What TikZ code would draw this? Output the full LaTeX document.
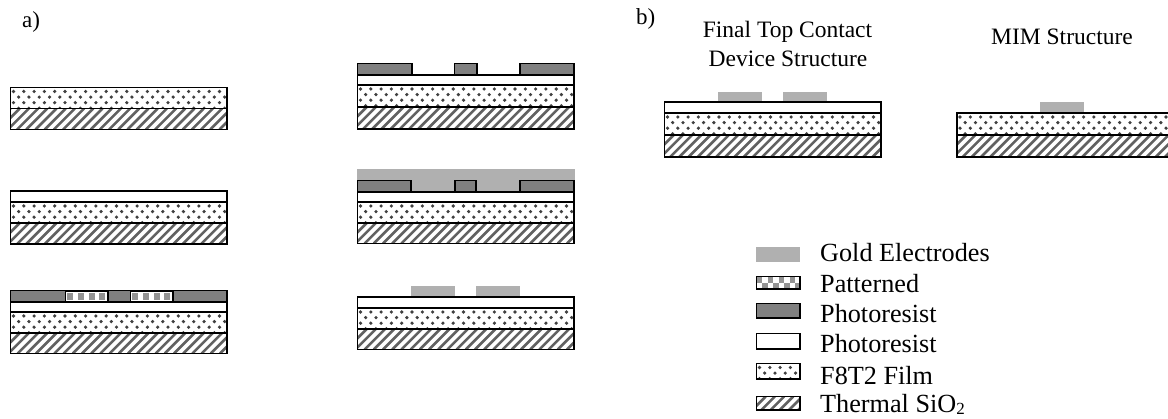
\documentclass[tikz,border=0pt]{standalone}
\usepackage{fontspec}
\setmainfont{Liberation Serif}
\tikzset{
  x=1pt,y=-1pt,
  frame/.style={draw=black,line width=1.5pt},
  goldfill/.style={fill=gold,draw=none},
  darkfill/.style={fill=resist,draw=black,line width=1.5pt},
  lbl/.style={inner sep=0pt,anchor=base west,font=\fontsize{26.2}{30}\selectfont},
  ttl/.style={inner sep=0pt,anchor=base,font=\fontsize{23.5}{28}\selectfont},
  tag/.style={inner sep=0pt,anchor=base west,font=\fontsize{23}{26}\selectfont}
}
\definecolor{gold}{gray}{0.69}
\definecolor{resist}{gray}{0.5}
\definecolor{hatch}{gray}{0.38}
\definecolor{dotc}{gray}{0.25}
\def\dotr{1.8}
% x1 y1 x2 y2
\newcommand{\dotlayer}[4]{%
  \begin{scope}
    \clip (#1,#2) rectangle (#3,#4);
    \pgfmathtruncatemacro{\nx}{(#3-#1)/10.3+1}
    \pgfmathtruncatemacro{\ny}{(#4-#2)/5.6+1}
    \foreach \j in {0,...,\ny}{
      \pgfmathsetmacro{\off}{mod(\j,2)*5.15}
      \foreach \i in {0,...,\nx}{
        \fill[dotc] ({#1+3+\off+\i*10.3},{#2+4+\j*5.6}) circle (\dotr);
      }
    }
  \end{scope}
  \draw[frame] (#1,#2) rectangle (#3,#4);
}
\newcommand{\hatchlayer}[4]{%
  \begin{scope}
    \clip (#1,#2) rectangle (#3,#4);
    \pgfmathtruncatemacro{\nx}{(#3-#1+#4-#2)/9.2+1}
    \foreach \i in {0,...,\nx}{
      \draw[hatch,line width=2.6pt] ({#1+\i*9.2-(#4-#2)},#4) -- ({#1+\i*9.2},#2);
    }
  \end{scope}
  \draw[frame] (#1,#2) rectangle (#3,#4);
}
\newcommand{\whitelayer}[4]{\draw[frame,fill=white] (#1,#2) rectangle (#3,#4);}
% one row of grey blocks, as in the patterned resist of the process drawing
\newcommand{\checkrow}[4]{%
  \draw[frame,fill=white] (#1,#2) rectangle (#3,#4);
  \foreach \i in {0,1,2,3}{
    \fill[gray!85] ({#1+1.5+\i*10.8},{#2+2}) rectangle ++(6,7.2);
  }
}
% full checkerboard, as in the legend swatch
\newcommand{\checklayer}[4]{%
  \begin{scope}
    \clip (#1,#2) rectangle (#3,#4);
    \fill[white] (#1,#2) rectangle (#3,#4);
    \foreach \i in {0,...,7}{
      \pgfmathsetmacro{\off}{mod(\i,2)*5.5}
      \foreach \j in {0,1}{
        \fill[gray!85] ({#1+\i*5.5},{#2+1+\off+\j*11}) rectangle ++(5.5,5.5);
      }
    }
  \end{scope}
  \draw[frame] (#1,#2) rectangle (#3,#4);
}
% substrate: x1 x2 top mid bottom
\newcommand{\stackbase}[5]{\dotlayer{#1}{#3}{#2}{#4}\hatchlayer{#1}{#4}{#2}{#5}}
\begin{document}
\begin{tikzpicture}
\useasboundingbox (0,0) rectangle (1168,419);
\fill[white] (0,0) rectangle (1168,419);
\node[tag] (taga) at (22,28) {a)};
\node[tag] (tagb) at (636,25) {b)};
\node[ttl] (t1) at (787.5,38) {Final Top Contact};
\node[ttl] (t2) at (788,67) {Device Structure};
\node[ttl] (t3) at (1062,45) {MIM Structure};
% column 1
\stackbase{10.5}{227}{87.5}{108.5}{129.5}
\whitelayer{10.5}{191}{227}{202}
\stackbase{10.5}{227}{202}{223}{244}
\draw[darkfill] (10.5,290.5) rectangle (227,302);
\checkrow{65.5}{291}{108}{302}
\checkrow{130.5}{291}{173}{302}
\whitelayer{10.5}{302}{227}{312}
\stackbase{10.5}{227}{312}{333}{353.5}
% column 2
\draw[darkfill] (357.5,63.5) rectangle (412,75);
\draw[darkfill] (454.5,63.5) rectangle (477,75);
\draw[darkfill] (520,63.5) rectangle (574,75);
\whitelayer{357.5}{75}{574}{85}
\stackbase{357.5}{574}{85}{107}{129}
\fill[gold] (357,169) rectangle (574.5,180);
\fill[gold] (411,180) rectangle (455,192);
\fill[gold] (476,180) rectangle (520,192);
\draw[darkfill] (357.5,180.5) rectangle (411,192);
\draw[darkfill] (455,180.5) rectangle (476,192);
\draw[darkfill] (520,180.5) rectangle (574,192);
\whitelayer{357.5}{192}{574}{202}
\stackbase{357.5}{574}{202}{223}{243.5}
\fill[gold] (411,286) rectangle (455,297);
\fill[gold] (476,286) rectangle (520,297);
\whitelayer{357.5}{297}{574}{308}
\stackbase{357.5}{574}{308}{329}{349.5}
% b
\fill[gold] (718,92) rectangle (762,102);
\fill[gold] (783,92) rectangle (827,102);
\whitelayer{664.5}{102}{881}{113}
\stackbase{664.5}{881}{113}{135}{157}
\fill[gold] (1040,102) rectangle (1084,113);
\stackbase{957}{1175}{113}{135}{157}
% legend
\fill[gold] (756,247) rectangle (800,262);
\checklayer{756.5}{276.5}{800}{289}
\draw[darkfill] (756.5,303.5) rectangle (800,318);
\whitelayer{756.5}{333.5}{800}{349}
\dotlayer{756.5}{363.5}{800}{379}
\hatchlayer{756.5}{396.5}{800}{410}
\node[lbl] (l1) at (820,262) {Gold Electrodes};
\node[lbl] (l2) at (820,293) {Patterned};
\node[lbl] (l3) at (820,323) {Photoresist};
\node[lbl] (l4) at (820,353) {Photoresist};
\node[lbl] (l5) at (820,385) {F8T2 Film};
\node[lbl] (l6) at (820,413) {Thermal SiO\raisebox{-2pt}{\fontsize{17}{17}\selectfont 2}};
\end{tikzpicture}
\end{document}
